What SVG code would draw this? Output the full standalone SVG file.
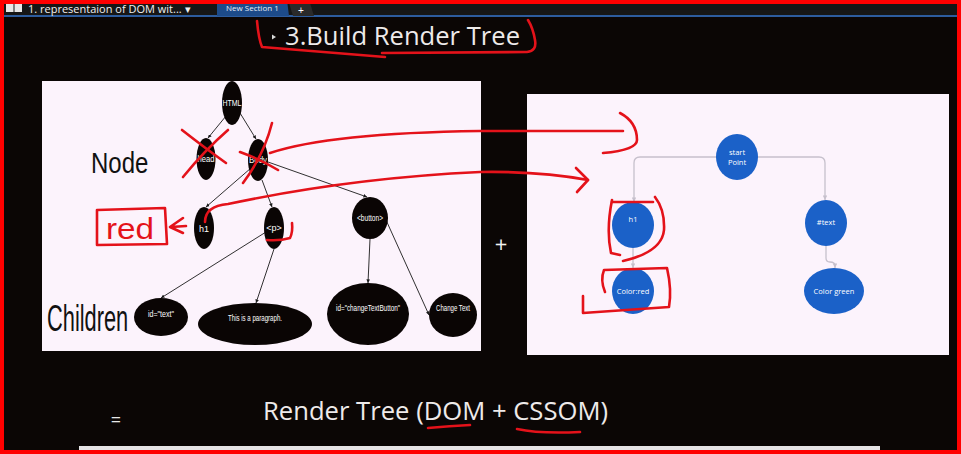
<svg xmlns="http://www.w3.org/2000/svg" width="961" height="454" viewBox="0 0 961 454">
<defs>
<style>
.bk{fill:#0a0504}
.tl{font-family:"Liberation Sans",Arial,sans-serif;font-size:9px;fill:#ffffff;text-anchor:middle}
.bl{fill:#1b61c8}
.rl{font-family:"Open Sans","Noto Sans",sans-serif;font-size:7.5px;fill:#ffffff;text-anchor:middle}
.ed{stroke:#1a1a1a;stroke-width:0.9;fill:none;marker-end:url(#ah)}
.gc{stroke:#c6c0cc;stroke-width:1.3;fill:none;marker-end:url(#gh)}
.rd{stroke:#e4121a;stroke-width:2.6;fill:none;stroke-linecap:round;stroke-linejoin:round}
.sl{font-family:"Open Sans","Noto Sans",sans-serif;fill:#eeeaea}
.cn{font-family:"Liberation Sans",Arial,sans-serif;fill:#111111}
</style>
<marker id="ah" viewBox="0 0 6 6" refX="6" refY="3" markerWidth="4" markerHeight="4" orient="auto"><path d="M0,0 L6,3 L0,6 Z" fill="#1a1a1a"/></marker>
<marker id="gh" viewBox="0 0 6 6" refX="6" refY="3" markerWidth="3.5" markerHeight="3.5" orient="auto"><path d="M0,0 L6,3 L0,6 Z" fill="#c6c0cc"/></marker>
</defs>
<rect x="0" y="0" width="961" height="454" fill="#0b0605"/>
<!-- top bar -->
<rect x="0" y="0" width="961" height="16" fill="#161616"/>
<rect x="0" y="15" width="961" height="2" fill="#2d5c9e"/>
<rect x="6" y="4" width="16" height="8" fill="#e8e8e8"/>
<line x1="14" y1="4" x2="14" y2="12" stroke="#161616" stroke-width="1"/>
<text x="28" y="13" font-family="'Open Sans','Noto Sans',sans-serif" font-size="11" fill="#f0f0f0">1. representaion of DOM wit... ▾</text>
<path d="M217,0 L287,0 L289,16 L217,16 Z" fill="#1d4b8a"/>
<text x="226" y="11" font-family="'Open Sans','Noto Sans',sans-serif" font-size="8" fill="#e8eef8">New Section 1</text>
<path d="M289,3 L310,3 L314,16 L293,16 Z" fill="#2a2a2a"/>
<text x="301" y="14" font-family="'Liberation Sans',sans-serif" font-size="10" fill="#ffffff" text-anchor="middle">+</text>
<!-- title -->
<path d="M272,34.5 L276,37 L272,39.5 Z" fill="#d8d8d8"/>
<text class="sl" x="285" y="45" font-size="26" textLength="235" lengthAdjust="spacingAndGlyphs">3.Build Render Tree</text>
<!-- panels -->
<rect x="42" y="81" width="439" height="270" fill="#fcf3fc"/>
<rect x="527" y="94" width="422" height="261" fill="#fcf3fc"/>
<text class="cn" font-size="30" transform="translate(91,173) scale(0.8,1)">Node</text>
<text class="cn" font-size="37" transform="translate(47,331) scale(0.59,1)">Children</text>
<!-- connectors -->
<g id="connectors">
<line class="ed" x1="226" y1="116" x2="208" y2="138"/>
<line class="ed" x1="240" y1="113" x2="256" y2="139"/>
<line class="ed" x1="251" y1="168" x2="206" y2="207"/>
<line class="ed" x1="262" y1="180" x2="272" y2="207"/>
<line class="ed" x1="268" y1="162" x2="367" y2="197"/>
<line class="ed" x1="266" y1="232" x2="161" y2="298"/>
<line class="ed" x1="274" y1="249" x2="256" y2="303"/>
<line class="ed" x1="370" y1="239" x2="368" y2="283"/>
<line class="ed" x1="386" y1="220" x2="429" y2="315"/>
<path class="gc" d="M716,157 L640,157 Q634,157 634,163 L634,202"/>
<path class="gc" d="M758,157 L819,157 Q825,157 825,163 L825,200"/>
<line class="gc" x1="633" y1="248" x2="633" y2="268"/>
<path class="gc" d="M826,245 L826,258 Q826,262 830,262 Q835,262 835,266 L835,268"/>
</g>
<!-- DOM nodes -->
<g id="n-html"><ellipse class="bk" cx="232" cy="103" rx="10" ry="22"/><text class="tl" x="232" y="106" textLength="19" lengthAdjust="spacingAndGlyphs">HTML</text></g>
<g id="n-head"><ellipse class="bk" cx="206" cy="159" rx="9.5" ry="21"/><text class="tl" x="206" y="162" textLength="17" lengthAdjust="spacingAndGlyphs">head</text></g>
<g id="n-body"><ellipse class="bk" cx="258" cy="160" rx="10" ry="21"/><text class="tl" x="258" y="163" textLength="18" lengthAdjust="spacingAndGlyphs">Body</text></g>
<g id="n-h1"><ellipse class="bk" cx="204" cy="228" rx="10" ry="21"/><text class="tl" x="204" y="232">h1</text></g>
<g id="n-p"><ellipse class="bk" cx="274" cy="228" rx="10" ry="21"/><text class="tl" x="274" y="231">&lt;p&gt;</text></g>
<g id="n-button"><ellipse class="bk" cx="370" cy="218" rx="18" ry="21"/><text class="tl" x="370" y="221" textLength="26" lengthAdjust="spacingAndGlyphs">&lt;button&gt;</text></g>
<g id="n-idtext"><ellipse class="bk" cx="161" cy="317" rx="27" ry="19"/><text class="tl" x="161" y="317" textLength="26" lengthAdjust="spacingAndGlyphs">id="text"</text></g>
<g id="n-para"><ellipse class="bk" cx="255" cy="324" rx="57" ry="21"/><text class="tl" x="255" y="321" textLength="54" lengthAdjust="spacingAndGlyphs">This is a paragraph.</text></g>
<g id="n-idbtn"><ellipse class="bk" cx="368" cy="314" rx="41" ry="31"/><text class="tl" x="368" y="311" textLength="64" lengthAdjust="spacingAndGlyphs">id="changeTextButton"</text></g>
<g id="n-change"><ellipse class="bk" cx="453" cy="315" rx="24" ry="22"/><text class="tl" x="453" y="311" textLength="34" lengthAdjust="spacingAndGlyphs">Change Text</text></g>
<!-- render tree nodes -->
<g id="r-start"><ellipse class="bl" cx="737" cy="157" rx="21" ry="23"/><text class="rl" x="737" y="155">start</text><text class="rl" x="737" y="165">Point</text></g>
<g id="r-h1"><ellipse class="bl" cx="633" cy="225" rx="21" ry="23"/><text class="rl" x="633" y="222">h1</text></g>
<g id="r-text"><ellipse class="bl" cx="826" cy="223" rx="21" ry="23"/><text class="rl" x="826" y="225">#text</text></g>
<g id="r-red"><ellipse class="bl" cx="633" cy="291" rx="21" ry="23"/><text class="rl" x="633" y="294">Color:red</text></g>
<g id="r-green"><ellipse class="bl" cx="834" cy="291" rx="30" ry="23"/><text class="rl" x="834" y="294">Color green</text></g>
<!-- plus, bottom -->
<text x="501" y="252" font-family="'Open Sans','Noto Sans',sans-serif" font-size="22" fill="#f2f2f2" text-anchor="middle">+</text>
<text x="116" y="426" font-family="'Open Sans','Noto Sans',sans-serif" font-size="18" fill="#e8e8e8" text-anchor="middle">=</text>
<text class="sl" x="263" y="420" font-size="26" textLength="345" lengthAdjust="spacingAndGlyphs">Render Tree (DOM + CSSOM)</text>
<rect x="79" y="446" width="801" height="5" fill="#e6e4e6"/>
<!-- red annotations -->
<g id="annotations">
<path class="rd" d="M257,21 C258,32 259,40 262,47 C300,50 340,53 385,57"/>
<path class="rd" d="M382,53 L527,52 Q537,51 535,40 Q533,28 528,20"/>
<path class="rd" d="M182,130 Q205,148 226,163"/>
<path class="rd" d="M228,130 Q205,150 183,177"/>
<path class="rd" d="M272,123 Q264,155 243,183"/>
<path class="rd" d="M240,152 Q262,160 278,170"/>
<path class="rd" d="M270,153 Q330,133 480,131 L623,131"/>
<path class="rd" d="M620,113 Q637,122 637,140 Q637,150 603,153"/>
<path class="rd" d="M205,222 Q205,206 228,204 Q350,178 480,172 Q540,171 588,180"/>
<path class="rd" d="M576,168 L588,180 L577,192"/>
<path class="rd" d="M97,210 L165,208 L167,244 L97,245 Z"/>
<text x="106" y="239" font-family="'Liberation Sans',sans-serif" font-size="30" fill="#e4121a" textLength="48" lengthAdjust="spacingAndGlyphs">red</text>
<path class="rd" d="M183,218 L170,227 L183,233 M171,227 L186,226"/>
<path class="rd" d="M267,240 Q280,241 290,238 Q293,232 292,223"/>
<path class="rd" d="M612,202 L653,202"/>
<path class="rd" d="M612,200 Q606,230 611,253 L620,255"/>
<path class="rd" d="M655,197 Q665,210 664,230 Q662,252 623,261"/>
<path class="rd" d="M605,292 Q600,280 604,270 L667,268 Q672,290 669,307 L583,313 L583,296"/>
<path class="rd" d="M428,428 Q450,426 470,425"/>
<path class="rd" d="M517,429 Q540,434 580,432"/>
</g>
<!-- frame -->
<rect x="2" y="2" width="957" height="450" fill="none" stroke="#ff0000" stroke-width="4"/>
</svg>
